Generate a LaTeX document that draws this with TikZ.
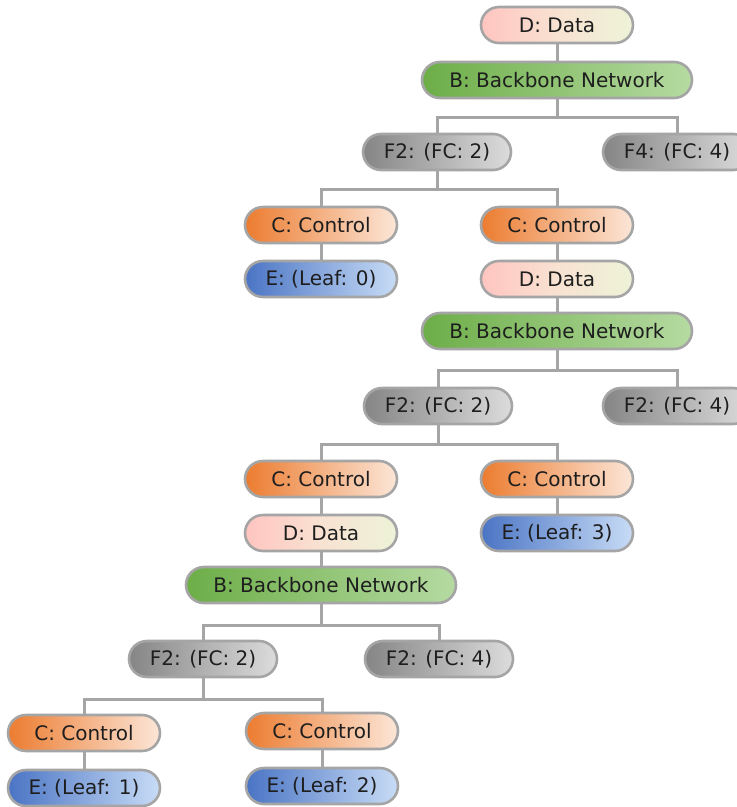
\documentclass[tikz,border=0pt]{standalone}
\usepackage{fontspec}
\setmainfont{DejaVu Sans}
\definecolor{bord}{HTML}{A5A5A5}
\definecolor{txt}{HTML}{1E1E1E}
\definecolor{dL}{HTML}{FFC5C0}
\definecolor{dM}{HTML}{F8E2D2}
\definecolor{dR}{HTML}{EEF3D8}
\definecolor{bL}{HTML}{6DAE48}
\definecolor{bR}{HTML}{B5DAA2}
\definecolor{fL}{HTML}{858585}
\definecolor{fR}{HTML}{DCDCDC}
\definecolor{cL}{HTML}{EC7C30}
\definecolor{cR}{HTML}{FCE6D8}
\definecolor{eL}{HTML}{4A74C4}
\definecolor{eR}{HTML}{C8DCF6}
\tikzset{
  x=1pt,y=-1pt,
  base/.style={rounded corners=18pt, draw=bord, line width=2.6pt, minimum height=36pt,
    minimum width=152pt, inner sep=0pt, text=txt, font=\fontsize{20}{23}\selectfont},
  dnode/.style={base, left color=dL, right color=dR, middle color=dM},
  bnode/.style={base, minimum width=270pt, left color=bL, right color=bR},
  fnode/.style={base, minimum width=148pt, left color=fL, right color=fR},
  cnode/.style={base, left color=cL, right color=cR},
  enode/.style={base, left color=eL, right color=eR},
  link/.style={draw=bord, line width=3pt},
}
\begin{document}
\begin{tikzpicture}
\useasboundingbox (0,0) rectangle (737,807);
% nodes
\node[dnode] (d1) at (557,25) {D: Data};
\node[bnode] (b1) at (557,80) {B: Backbone Network};
\node[fnode] (f1a) at (437,152) {F2: (FC: 2)};
\node[fnode] (f1b) at (677,152) {F4: (FC: 4)};
\node[cnode] (c1a) at (321,225) {C: Control};
\node[cnode] (c1b) at (557,225) {C: Control};
\node[enode] (e0) at (321,279) {E: (Leaf: 0)};
\node[dnode] (d2) at (557,279) {D: Data};
\node[bnode] (b2) at (557,331) {B: Backbone Network};
\node[fnode] (f2a) at (438,406) {F2: (FC: 2)};
\node[fnode] (f2b) at (677,406) {F2: (FC: 4)};
\node[cnode] (c2a) at (321,479) {C: Control};
\node[cnode] (c2b) at (557,479) {C: Control};
\node[dnode] (d3) at (321,533) {D: Data};
\node[enode] (e3) at (557,533) {E: (Leaf: 3)};
\node[bnode] (b3) at (321,585) {B: Backbone Network};
\node[fnode] (f3a) at (203,659) {F2: (FC: 2)};
\node[fnode] (f3b) at (439,659) {F2: (FC: 4)};
\node[cnode] (c3a) at (84,733) {C: Control};
\node[cnode] (c3b) at (322,731) {C: Control};
\node[enode] (e1) at (84,788) {E: (Leaf: 1)};
\node[enode] (e2) at (322,786) {E: (Leaf: 2)};
% connectors
\path[link] (d1) -- (b1);
\path[link] (b1.south) -- ++(0,18) -| (f1a.north);
\path[link] (b1.south) -- ++(0,18) -| (f1b.north);
\path[link] (f1a.south) -- ++(0,18) -| (c1a.north);
\path[link] (f1a.south) -- ++(0,18) -| (c1b.north);
\path[link] (c1a) -- (e0);
\path[link] (c1b) -- (d2);
\path[link] (d2) -- (b2);
\path[link] (b2.south) -- ++(0,20) -| (f2a.north);
\path[link] (b2.south) -- ++(0,20) -| (f2b.north);
\path[link] (f2a.south) -- ++(0,19) -| (c2a.north);
\path[link] (f2a.south) -- ++(0,19) -| (c2b.north);
\path[link] (c2a) -- (d3);
\path[link] (c2b) -- (e3);
\path[link] (d3) -- (b3);
\path[link] (b3.south) -- ++(0,21) -| (f3a.north);
\path[link] (b3.south) -- ++(0,21) -| (f3b.north);
\path[link] (f3a.south) -- ++(0,21) -| (c3a.north);
\path[link] (f3a.south) -- ++(0,21) -| (c3b.north);
\path[link] (c3a) -- (e1);
\path[link] (c3b) -- (e2);
\end{tikzpicture}
\end{document}
